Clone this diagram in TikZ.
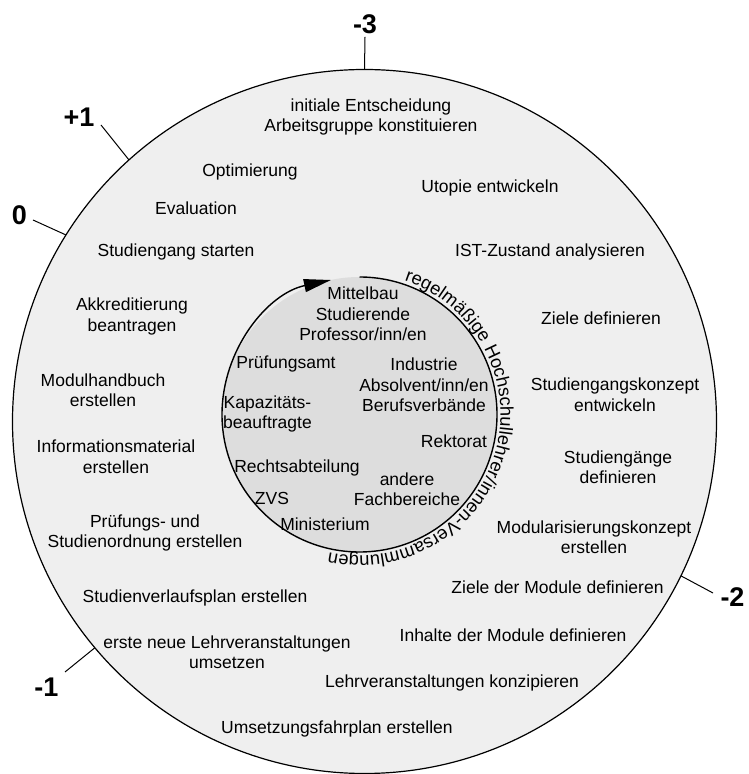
\documentclass[tikz,border=0pt]{standalone}
\usepackage{fontspec}
\setmainfont{Liberation Sans}
\usetikzlibrary{arrows.meta,calc,decorations.text}
\definecolor{outerfill}{HTML}{EFEFEF}
\definecolor{innerfill}{HTML}{DDDDDD}
\begin{document}
\begin{tikzpicture}[x=1pt,y=1pt,
  lbl/.style={font=\fontsize{17.5}{20.5}\selectfont, align=center, inner sep=0pt},
  phase/.style={font=\fontsize{27}{30}\selectfont\bfseries, inner sep=0pt},
  tickline/.style={line width=1pt}]
\useasboundingbox (0,0) rectangle (749,774);
% circles
\node[circle, draw, line width=1.2pt, fill=outerfill, minimum size=704pt, inner sep=0pt, outer sep=0pt] (outer) at (364.5,352.5) {};
\node[circle, fill=innerfill, minimum size=275pt, inner sep=0pt, outer sep=0pt] (inner) at (359.5,359.5) {};
\draw[line width=1.4pt, -{Triangle[length=27pt,width=13pt]}] ($(inner.center)+(90:137.5)$) arc[start angle=90, end angle=-258, radius=137.5];
\path[decorate, decoration={text along path, text align=left,
  text={|\fontsize{18.3}{20}\selectfont|regelmäßige Hochschullehrer/innen-Versammlungen}}]
  ($(inner.center)+(71.5:141)$) arc[start angle=71.5, end angle=-125, radius=141];
% phase ticks
\coordinate (e3) at (365,737);
\coordinate (e1p) at (101,649);
\coordinate (e0) at (33,554);
\coordinate (e2) at (713,181);
\coordinate (e1m) at (65,102);
\draw[tickline] (outer.90) -- (e3);
\draw[tickline] (outer.132.6) -- (e1p);
\draw[tickline] (outer.148.7) -- (e0);
\draw[tickline] (outer.-26.2) -- (e2);
\draw[tickline] (outer.220) -- (e1m);
\node[phase] (p3) at (365,749.5) {-3};
\node[phase] (p1p) at (79,657) {+1};
\node[phase] (p0) at (19.5,559) {0};
\node[phase] (p2) at (732.5,176.5) {-2};
\node[phase] (p1m) at (46.5,87) {-1};
% outer ring texts
\node[lbl] (a1) at (371,657) {initiale Entscheidung\\Arbeitsgruppe konstituieren};
\node[lbl] (a2) at (250,602) {Optimierung};
\node[lbl] (a3) at (196,566) {Evaluation};
\node[lbl] (a4) at (176,522) {Studiengang starten};
\node[lbl] (a5) at (490,586) {Utopie entwickeln};
\node[lbl] (a6) at (550,522) {IST-Zustand analysieren};
\node[lbl] (a7) at (132,457.5) {Akkreditierung\\beantragen};
\node[lbl] (a8) at (103,384) {Modulhandbuch\\erstellen};
\node[lbl] (a9) at (116,317.5) {Informationsmaterial\\erstellen};
\node[lbl] (a10) at (145,241) {Prüfungs- und\\Studienordnung erstellen};
\node[lbl] (a11) at (195,176) {Studienverlaufsplan erstellen};
\node[lbl] (a12) at (227,122) {erste neue Lehrveranstaltungen\\umsetzen};
\node[lbl] (a13) at (337,45) {Umsetzungsfahrplan erstellen};
\node[lbl] (a14) at (452,91) {Lehrveranstaltungen konzipieren};
\node[lbl] (a15) at (513,139) {Inhalte der Module definieren};
\node[lbl] (a16) at (557.5,187) {Ziele der Module definieren};
\node[lbl] (a17) at (594,237) {Modularisierungskonzept\\erstellen};
\node[lbl] (a18) at (618,307) {Studiengänge\\definieren};
\node[lbl] (a19) at (615,379.5) {Studiengangskonzept\\entwickeln};
\node[lbl] (a20) at (601,456) {Ziele definieren};
% inner texts
\node[lbl] (b1) at (363,460) {Mittelbau\\Studierende\\Professor/inn/en};
\node[lbl] (b2) at (286,410) {Prüfungsamt};
\node[lbl] (b3) at (424,389) {Industrie\\Absolvent/inn/en\\Berufsverbände};
\node[lbl] (b4) at (267.5,360) {Kapazitäts-\\beauftragte};
\node[lbl] (b5) at (454,333) {Rektorat};
\node[lbl] (b6) at (297,306) {Rechtsabteilung};
\node[lbl] (b7) at (407,285) {andere\\Fachbereiche};
\node[lbl] (b8) at (272,276) {ZVS};
\node[lbl] (b9) at (325,250) {Ministerium};
\end{tikzpicture}
\end{document}
